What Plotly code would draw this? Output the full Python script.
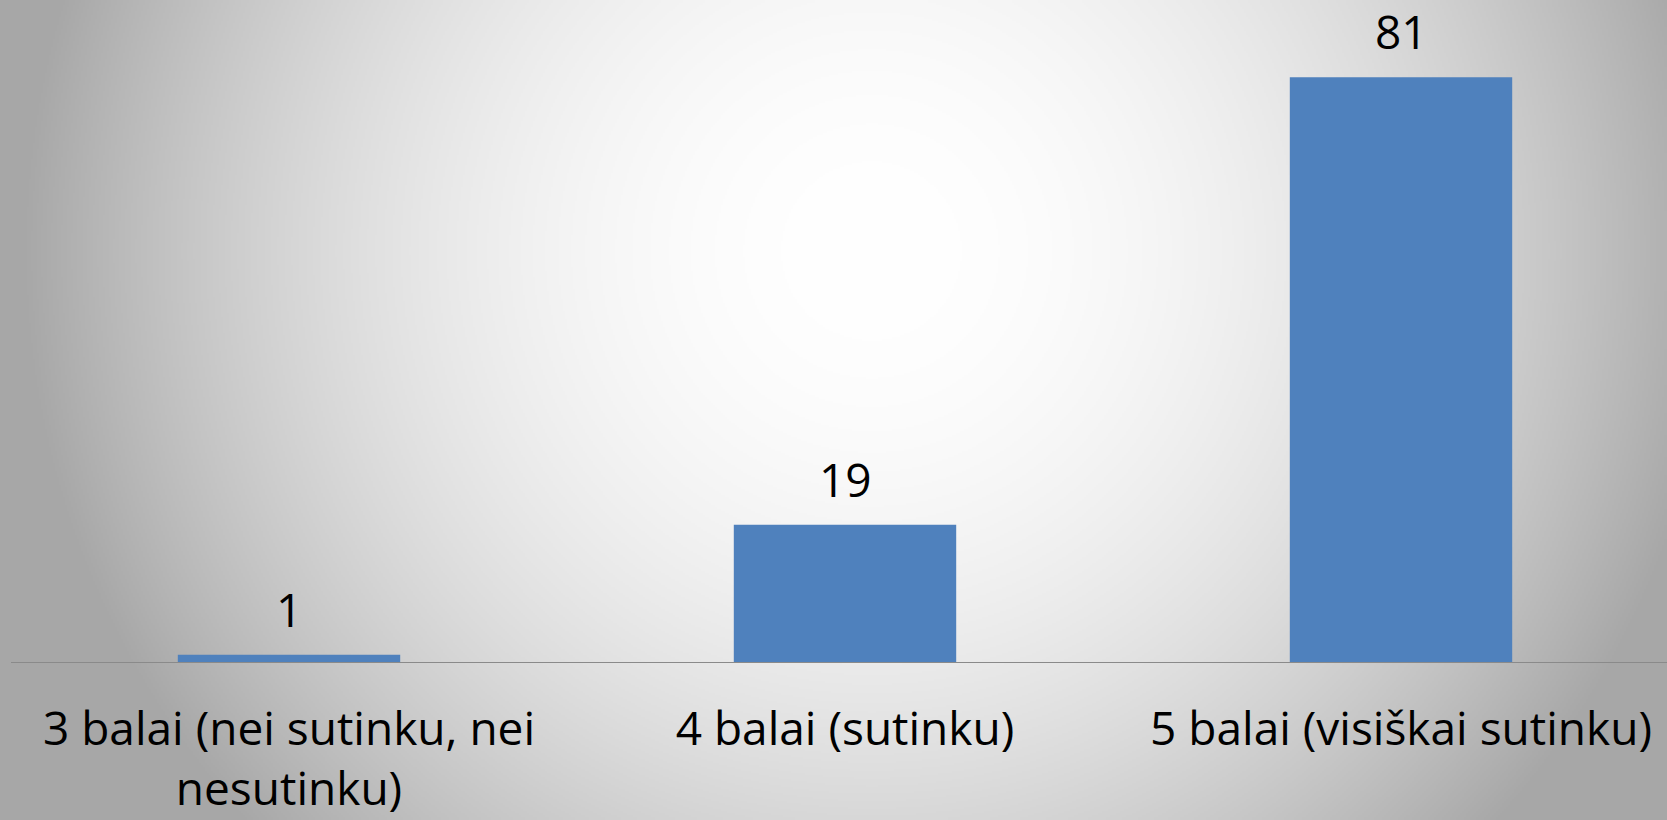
import base64
import struct
import zlib

import numpy as np
import plotly.graph_objects as go

# ---- data ----
categories = [
    "3 balai (nei sutinku, nei<br>nesutinku)",
    "4 balai (sutinku)",
    "5 balai (visiškai sutinku)",
]
values = [1, 19, 81]

# ---- figure geometry ----
W, H = 1667, 820
ML, MR, MT, MB = 11, 0, 0, 158
PW, PH = W - ML - MR, H - MT - MB
CAT_STEP = 556.0  # px per category
PX_PER_UNIT = 7.22


# ---- radial gradient background (white centre -> grey edges) ----
def png_gray(arr):
    h, w = arr.shape
    raw = b"".join(b"\x00" + arr[i].tobytes() for i in range(h))

    def chunk(t, d):
        c = struct.pack(">I", len(d)) + t + d
        return c + struct.pack(">I", zlib.crc32(t + d) & 0xFFFFFFFF)

    ihdr = struct.pack(">IIBBBBB", w, h, 8, 0, 0, 0, 0)
    return (b"\x89PNG\r\n\x1a\n" + chunk(b"IHDR", ihdr)
            + chunk(b"IDAT", zlib.compress(raw, 9)) + chunk(b"IEND", b""))


S = 2
gw, gh = W // S, H // S
yy, xx = np.mgrid[0:gh, 0:gw].astype(float)
cx, cy = 870.0 / S, 250.0 / S
r = np.sqrt((xx - cx) ** 2 + (yy - cy) ** 2) * S
t = np.clip(r / 850.0, 0, 1)
g = 255.0 - 88.0 * t ** 2
img = np.clip(g, 0, 255).astype(np.uint8)
bg_uri = "data:image/png;base64," + base64.b64encode(png_gray(img)).decode()

fig = go.Figure()
fig.add_trace(go.Bar(
    x=list(range(len(categories))),
    y=values,
    width=0.4,
    marker=dict(color="#4f81bd", line=dict(width=0)),
    hoverinfo="skip",
))

for i, v in enumerate(values):
    fig.add_annotation(
        x=i, y=v, text=str(v), showarrow=False,
        yanchor="bottom", yshift=13,
        font=dict(family="Open Sans", size=46, color="#000000"),
    )

fig.add_layout_image(
    source=bg_uri, xref="paper", yref="paper",
    x=-ML / PW, y=1 + MT / PH, sizex=W / PW, sizey=H / PH,
    xanchor="left", yanchor="top", sizing="stretch", layer="below",
)

fig.update_layout(
    width=W, height=H,
    margin=dict(l=ML, r=MR, t=MT, b=MB, pad=0, autoexpand=False),
    paper_bgcolor="#cfcfcf",
    plot_bgcolor="rgba(0,0,0,0)",
    showlegend=False,
    font=dict(family="Open Sans", size=46, color="#000000"),
    xaxis=dict(
        tickmode="array",
        tickvals=list(range(len(categories))),
        ticktext=categories,
        range=[-0.5, -0.5 + PW / CAT_STEP],
        showgrid=False, zeroline=False,
        showline=True, linecolor="#8a8a8a", linewidth=1,
        ticks="", ticklabelstandoff=27,
        automargin=False,
        tickfont=dict(family="Open Sans", size=46, color="#000000"),
        fixedrange=True,
    ),
    yaxis=dict(
        range=[0, PH / PX_PER_UNIT],
        visible=False, showgrid=False, zeroline=False,
        automargin=False,
        fixedrange=True,
    ),
)

fig.write_html(
    "out.html",
    config={"displayModeBar": False},
    post_script="document.body.style.margin='0';document.body.style.overflow='hidden';",
)
